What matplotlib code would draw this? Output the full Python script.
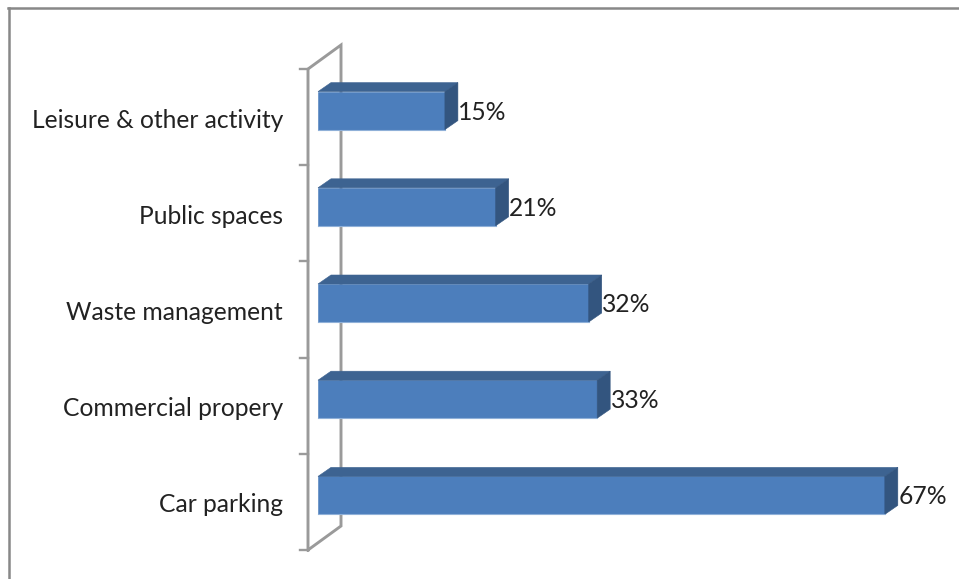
import matplotlib
matplotlib.use("Agg")
import matplotlib.pyplot as plt
from matplotlib.lines import Line2D
from matplotlib.patches import Polygon

categories = ["Car parking", "Commercial propery", "Waste management", "Public spaces", "Leisure & other activity"]
values = [67, 33, 32, 21, 15]
value_labels = ["67%", "33%", "32%", "21%", "15%"]

W, H = 959, 579
plt.rcParams['font.family'] = ['Lato', 'DejaVu Sans']
fig = plt.figure(figsize=(W / 100, H / 100), dpi=100, facecolor="white")

# Axes box = x: bar base .. 80 %, y: axis front plane (pixels 69..550)
PX_PER_PCT = 8.46
L, R, T, B = 318, 318 + 80 * PX_PER_PCT, 69, 550
ax = fig.add_axes([L / W, 1 - B / H, (R - L) / W, (B - T) / H])
ax.set_xlim(0, 80)
ax.set_ylim(0, len(categories))
ax.axis("off")

band = (B - T) / len(categories)
dx = 13 / PX_PER_PCT      # bar depth
dy = 9 / band
wall_dx, wall_dy = 33 / PX_PER_PCT, 24 / band
front_x = -10 / PX_PER_PCT
bar_h = 38 / band
bar_off = 6.5 / band

FRONT, TOP, SIDE = "#4C7EBC", "#3D6391", "#33557F"
GREY = "#9A9A9A"

# Wall
wall = [(front_x, 0), (front_x, 5), (front_x + wall_dx, 5 + wall_dy),
        (front_x + wall_dx, wall_dy), (front_x, 0)]
ax.add_line(Line2D(*zip(*wall), color=GREY, lw=2.1, clip_on=False, solid_joinstyle="miter"))
for i in range(len(categories) + 1):
    ax.add_line(Line2D([front_x - 8 / PX_PER_PCT, front_x], [i, i], color=GREY, lw=1.7, clip_on=False))

# Bars
for i, (cat, v, lab) in enumerate(zip(categories, values, value_labels)):
    y0 = i + 0.5 + bar_off - bar_h / 2
    y1 = y0 + bar_h
    ax.barh(y0, v, height=bar_h, align="edge", color=FRONT, edgecolor=FRONT, lw=0.4, clip_on=False, zorder=3)
    ax.add_line(Line2D([0, v], [y0, y0], color="#8FB0D8", lw=0.8, clip_on=False, zorder=4))
    ax.add_patch(Polygon([(0, y1), (v, y1), (v + dx, y1 + dy), (dx, y1 + dy)],
                         closed=True, fc=TOP, ec=TOP, lw=0.4, clip_on=False, zorder=3))
    ax.add_patch(Polygon([(v, y0), (v + dx, y0 + dy), (v + dx, y1 + dy), (v, y1)],
                         closed=True, fc=SIDE, ec=SIDE, lw=0.4, clip_on=False, zorder=3))
    ax.text(v + 13.5 / PX_PER_PCT, i + 0.5 + 5 / band, lab, ha="left", va="center",
            fontsize=17.7, color="#222222", zorder=5)
    ax.text(-35 / PX_PER_PCT, i + 0.5 - 3 / band, cat, ha="right", va="center",
            fontsize=17.7, color="#222222")

# Outer frame (top and left only are visible)
fig.add_artist(Line2D([9 / W, 9 / W], [0, 1 - 8 / H], color="#888888", lw=1.8, transform=fig.transFigure))
fig.add_artist(Line2D([8 / W, 1], [1 - 8 / H, 1 - 8 / H], color="#888888", lw=1.8, transform=fig.transFigure))

fig.savefig("out.png", dpi=100, facecolor="white")
